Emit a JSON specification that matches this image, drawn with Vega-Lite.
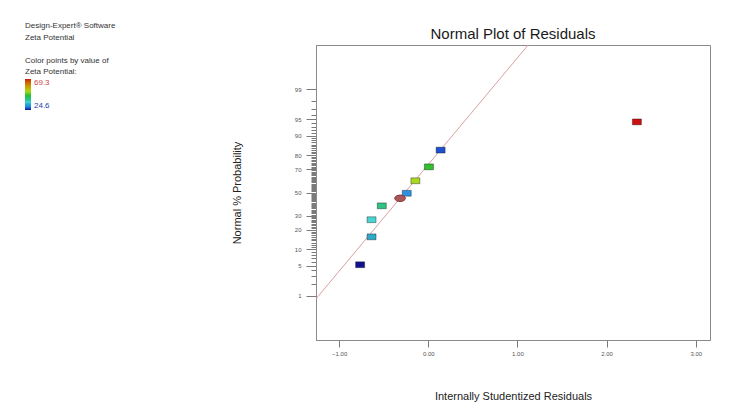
{
  "$schema": "https://vega.github.io/schema/vega-lite/v6.json",
  "width": 394,
  "height": 295,
  "autosize": {"type": "none"},
  "padding": {"left": 316, "top": 45, "right": 31, "bottom": 75},
  "background": "white",
  "config": {
    "font": "Liberation Sans",
    "view": {"stroke": "#8a8a8a", "strokeWidth": 1},
    "axis": {
      "domainColor": "#8a8a8a",
      "tickColor": "#7a7a7a",
      "labelColor": "#555555",
      "labelFontSize": 6,
      "labelFont": "Liberation Sans",
      "titleFont": "Liberation Sans",
      "titleFontWeight": "normal",
      "titleColor": "#222222",
      "titleFontSize": 11,
      "grid": false,
      "labelOverlap": false,
      "labelFlush": false
    }
  },
  "title": {
    "text": "Normal Plot of Residuals",
    "fontSize": 15,
    "fontWeight": "normal",
    "color": "#1a1a1a",
    "offset": -20,
    "frame": "group",
    "anchor": "middle",
    "font": "Liberation Sans"
  },
  "datasets": {
    "pts": [
      {"residual": -0.765, "prob": 5.2, "zeta": 24.6},
      {"residual": -0.637, "prob": 15.9, "zeta": 33},
      {"residual": -0.637, "prob": 27.0, "zeta": 36},
      {"residual": -0.522, "prob": 38.2, "zeta": 40},
      {"residual": -0.242, "prob": 49.3, "zeta": 30},
      {"residual": -0.145, "prob": 60.4, "zeta": 52},
      {"residual": 0.007, "prob": 71.8, "zeta": 46},
      {"residual": 0.138, "prob": 83.0, "zeta": 27},
      {"residual": 2.34, "prob": 94.4, "zeta": 69.3}
    ],
    "sel": [
      {"residual": -0.317, "prob": 44.8}
    ],
    "fit": [
      {"residual": -1.26, "prob": 0.836},
      {"residual": 1.13, "prob": 99.9586}
    ]
  },
  "encoding": {
    "x": {
      "field": "residual",
      "type": "quantitative",
      "scale": {"domain": [-1.26, 3.16], "nice": false, "zero": false},
      "axis": {
        "title": "Internally Studentized Residuals",
        "values": [-1, 0, 1, 2, 3],
        "format": ".2f",
        "tickSize": 7,
        "labelPadding": 3,
        "titleY": 50,
        "titleBaseline": "top"
      }
    },
    "y": {
      "field": "z",
      "type": "quantitative",
      "scale": {"domain": [-3.32, 3.32], "nice": false, "zero": false},
      "axis": {
        "title": "Normal % Probability",
        "titleX": -74,
        "titleY": 147.5,
        "titleAngle": 270,
        "titleBaseline": "bottom",
        "titleAlign": "center",
        "values": [-2.3263, -2.0537, -1.8808, -1.7507, -1.6449, -1.5548, -1.4758, -1.4051, -1.3408, -1.2816, -1.2265, -1.175, -1.1264, -1.0803, -1.0364, -0.9945, -0.9542, -0.9154, -0.8779, -0.8416, -0.8064, -0.7722, -0.7388, -0.7063, -0.6745, -0.6433, -0.6128, -0.5828, -0.5534, -0.5244, -0.4959, -0.4677, -0.4399, -0.4125, -0.3853, -0.3585, -0.3319, -0.3055, -0.2793, -0.2533, -0.2275, -0.2019, -0.1764, -0.151, -0.1257, -0.1004, -0.0753, -0.0502, -0.0251, 0, 0.0251, 0.0502, 0.0753, 0.1004, 0.1257, 0.151, 0.1764, 0.2019, 0.2275, 0.2533, 0.2793, 0.3055, 0.3319, 0.3585, 0.3853, 0.4125, 0.4399, 0.4677, 0.4959, 0.5244, 0.5534, 0.5828, 0.6128, 0.6433, 0.6745, 0.7063, 0.7388, 0.7722, 0.8064, 0.8416, 0.8779, 0.9154, 0.9542, 0.9945, 1.0364, 1.0803, 1.1264, 1.175, 1.2265, 1.2816, 1.3408, 1.4051, 1.4758, 1.5548, 1.6449, 1.7507, 1.8808, 2.0537, 2.3263],
        "labelExpr": "indexof([1,5,10,20,30,50,70,80,90,95,99], round(cumulativeNormal(datum.value)*100)) >= 0 ? '' + round(cumulativeNormal(datum.value)*100) : ''",
        "tickSize": {"condition": {"test": "indexof([1,5,10,20,30,50,70,80,90,95,99], round(cumulativeNormal(datum.value)*100)) >= 0", "value": 10}, "value": 5},
        "labelPadding": 5
      }
    }
  },
  "layer": [
    {
      "data": {"name": "fit"},
      "transform": [{"calculate": "quantileNormal(datum.prob/100)", "as": "z"}],
      "mark": {"type": "line", "color": "#d9a0a0", "strokeWidth": 1, "clip": true}
    },
    {
      "data": {"name": "pts"},
      "transform": [{"calculate": "quantileNormal(datum.prob/100)", "as": "z"}],
      "mark": {"type": "point", "filled": true, "shape": "M-1,-0.65H1V0.65H-1Z", "size": 81, "stroke": "#000000", "strokeOpacity": 0.35, "strokeWidth": 1, "opacity": 1},
      "encoding": {
        "color": {
          "field": "zeta",
          "type": "quantitative",
          "scale": {
            "domain": [24.6, 27, 30, 33, 36, 40, 46, 52, 69.3],
            "range": ["#12128e", "#2050d0", "#3090e0", "#30a8c8", "#48d4d0", "#30c080", "#30c030", "#a8d820", "#cc1010"]
          },
          "legend": {
            "type": "gradient",
            "orient": "none",
            "legendX": -291,
            "legendY": -23,
            "padding": 0,
            "direction": "vertical",
            "title": ["Design-Expert® Software", "Zeta Potential", "\u2800", "Color points by value of", "Zeta Potential:"],
            "titleFont": "Liberation Sans",
            "titleFontSize": 8,
            "titleFontWeight": "normal",
            "titleColor": "#333333",
            "titleLineHeight": 11.5,
            "titlePadding": 3,
            "titleAnchor": "start",
            "values": [24.6, 69.3],
            "format": ".1f",
            "gradientLength": 31,
            "gradientThickness": 6,
            "gradientStrokeWidth": 0,
            "labelFontSize": 8,
            "labelOffset": 3,
            "labelColor": {"expr": "datum.value > 50 ? '#d04848' : '#2040b0'"}
          }
        }
      }
    },
    {
      "data": {"name": "sel"},
      "transform": [{"calculate": "quantileNormal(datum.prob/100)", "as": "z"}],
      "mark": {"type": "point", "filled": true, "shape": "M-1,0A1,0.6 0 1,0 1,0A1,0.6 0 1,0 -1,0Z", "size": 115, "color": "#a85858", "stroke": "#883838", "strokeWidth": 1, "opacity": 1}
    }
  ]
}
